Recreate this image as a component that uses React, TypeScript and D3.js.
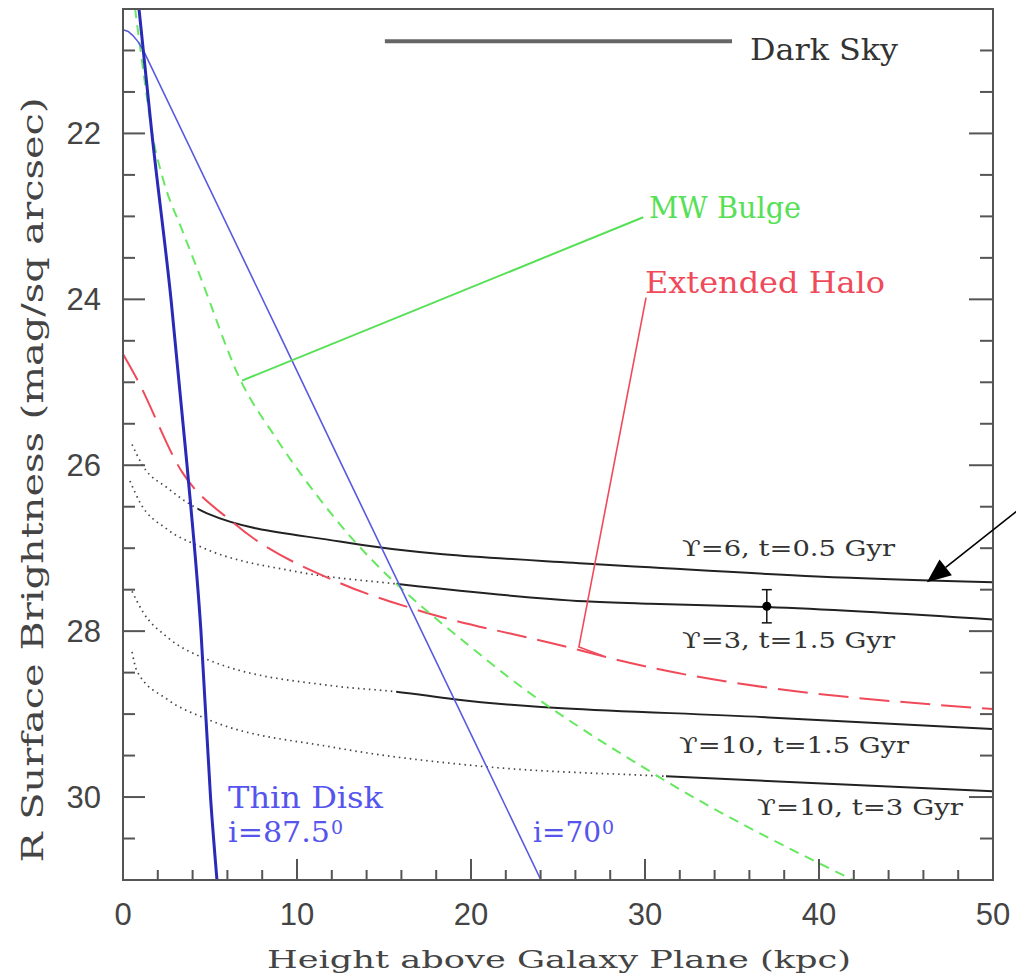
import React from 'react';
import * as d3 from 'd3';

// axis ticks
const xMajorTicks = [0, 10, 20, 30, 40, 50];
const yMajorTicks = [22, 24, 26, 28, 30];

// surface brightness profiles: [height kpc, R mag/sq arcsec]
const thinDisk875 = [[0.92, 20.5], [1.66, 22], [2.76, 24], [3.68, 26], [4.48, 28], [5.03, 30], [5.4, 31]];
const thinDisk70 = [[0, 20.75], [0.3, 20.77], [0.57, 20.82], [0.85, 20.89], [1.15, 20.99], [8.85, 24.36], [12.47, 25.95], [24.02, 31]];
const mwBulge = [[0.69, 20.49], [1.26, 21.39], [1.67, 21.99], [2.3, 22.55], [3.39, 23.16], [4.43, 23.72],
  [6.72, 24.96], [8.85, 25.69], [12.07, 26.61], [20.86, 28.34], [30.75, 29.75], [41.95, 31.0]];
const extendedHalo = [[0, 24.66], [0.8, 24.96], [3.39, 26.08], [6.32, 26.69], [12.47, 27.42], [16.67, 27.73],
  [25.52, 28.19], [28.28, 28.34], [50, 28.94]];

// satellite-debris models (dotted where unresolved, solid beyond)
const modelU6t05 = [[0.52, 25.75], [1.15, 26.01], [2.53, 26.27], [3.85, 26.47], [4.83, 26.58], [12.47, 26.92],
  [27.0, 27.19], [30.29, 27.23], [39.9, 27.34], [50, 27.41]];
const modelU3t15 = [[0.4, 26.19], [0.98, 26.45], [2.53, 26.77], [4.43, 26.98], [10.17, 27.29], [15.69, 27.43],
  [26.55, 27.64], [30.29, 27.67], [37.0, 27.71], [50, 27.86]];
const modelU10t15 = [[0.52, 27.52], [1.15, 27.77], [2.53, 28.07], [4.83, 28.34], [12.07, 28.66], [15.69, 28.73],
  [19.02, 28.82], [37.1, 29.04], [50, 29.18]];
const modelU10t3 = [[0.52, 28.25], [0.8, 28.48], [2.53, 28.82], [4.83, 29.06], [12.07, 29.4], [20.63, 29.63],
  [31.2, 29.75], [50, 29.93]];
const solidFrom = [4.3, 15.7, 15.7, 31.2];

const observed = { x: 37.0, y: 27.7, err: 0.2 };
const darkSky = { x0: 15.05, x1: 35.0, y: 20.89 };

export default function App() {
  const x = d3.scaleLinear().domain([0, 50]).range([123, 993]);
  const y = d3.scaleLinear().domain([20.5, 31]).range([9, 880]);
  const line = d3.line<number[]>().x(d => x(d[0])).y(d => y(d[1])).curve(d3.curveMonotoneX);
  const straight = d3.line<number[]>().x(d => x(d[0])).y(d => y(d[1])).curve(d3.curveLinear);

  const models = [modelU6t05, modelU3t15, modelU10t15, modelU10t3];
  const x0 = x(0), x1 = x(50), y0 = y(20.5), y1 = y(31);

  const xMinor = d3.range(2, 50, 2).filter(v => v % 10 !== 0);
  const yMinor = d3.range(21, 31, 0.5).filter(v => !yMajorTicks.includes(v));

  // arrow toward the upper model curve
  const tip = [x(46.2), y(27.41)];
  const tail = [x(52.9), y(26.3)];
  const ang = Math.atan2(tip[1] - tail[1], tip[0] - tail[0]);
  const hl = 24, hw = 10;
  const bx = tip[0] - hl * Math.cos(ang), by = tip[1] - hl * Math.sin(ang);
  const head = `${tip[0]},${tip[1]} ${bx + hw * Math.sin(ang)},${by - hw * Math.cos(ang)} ${bx - hw * Math.sin(ang)},${by + hw * Math.cos(ang)}`;

  const serif = 'DejaVu Serif';

  return (
    <svg width={1016} height={978} style={{ position: 'absolute', left: 0, top: 0, background: '#fff' }}>
      <defs>
        <clipPath id="plot"><rect x={x0} y={y0} width={x1 - x0} height={y1 - y0} /></clipPath>
        {solidFrom.map((s, i) => (
          <React.Fragment key={i}>
            <clipPath id={`dot${i}`}><rect x={x0} y={y0} width={x(s) - x0} height={y1 - y0} /></clipPath>
            <clipPath id={`sol${i}`}><rect x={x(s)} y={y0} width={x1 - x(s)} height={y1 - y0} /></clipPath>
          </React.Fragment>
        ))}
      </defs>

      <g clipPath="url(#plot)" fill="none">
        {models.map((m, i) => (
          <g key={i}>
            <path d={line(m)!} clipPath={`url(#dot${i})`} stroke="#444" strokeWidth={1.7} strokeDasharray="1.5 4" />
            <path d={line(m)!} clipPath={`url(#sol${i})`} stroke="#222" strokeWidth={2} />
          </g>
        ))}
        <path d={line(extendedHalo)!} stroke="#f04a5a" strokeWidth={2} strokeDasharray="30 11" />
        <path d={line(mwBulge)!} stroke="#66e860" strokeWidth={2} strokeDasharray="10 7" />
        <path d={straight(thinDisk70)!} stroke="#5a5ae0" strokeWidth={1.6} />
        <path d={line(thinDisk875)!} stroke="#2a2ab8" strokeWidth={3} />
      </g>

      {/* leaders */}
      <line x1={x(6.84)} y1={y(24.98)} x2={x(29.9)} y2={y(23.01)} stroke="#55e055" strokeWidth={2} />
      <polyline points={`${x(30.06)},${y(23.98)} ${x(26.2)},${y(28.19)} ${x(27.6)},${y(28.3)}`} fill="none" stroke="#f04a5a" strokeWidth={1.6} />

      {/* dark sky */}
      <line x1={x(darkSky.x0)} x2={x(darkSky.x1)} y1={y(darkSky.y)} y2={y(darkSky.y)} stroke="#666" strokeWidth={4} />

      {/* observed point */}
      <g stroke="#111" strokeWidth={1.5}>
        <line x1={x(observed.x)} x2={x(observed.x)} y1={y(observed.y - observed.err)} y2={y(observed.y + observed.err)} />
        <line x1={x(observed.x) - 5} x2={x(observed.x) + 5} y1={y(observed.y - observed.err)} y2={y(observed.y - observed.err)} />
        <line x1={x(observed.x) - 5} x2={x(observed.x) + 5} y1={y(observed.y + observed.err)} y2={y(observed.y + observed.err)} />
      </g>
      <circle cx={x(observed.x)} cy={y(observed.y)} r={4.5} fill="#000" />

      {/* frame & ticks */}
      <rect x={x0} y={y0} width={x1 - x0} height={y1 - y0} fill="none" stroke="#555" strokeWidth={2} />
      <g stroke="#555" strokeWidth={2}>
        {xMajorTicks.slice(1, -1).map(v => <line key={'xm' + v} x1={x(v)} x2={x(v)} y1={y1} y2={y1 - 21} />)}
        {xMinor.map(v => <line key={'xn' + v} x1={x(v)} x2={x(v)} y1={y1} y2={y1 - 10} />)}
        {yMajorTicks.map(v => (
          <g key={'ym' + v}>
            <line x1={x0} x2={x0 + 22} y1={y(v)} y2={y(v)} />
            <line x1={x1} x2={x1 - 24} y1={y(v)} y2={y(v)} />
          </g>
        ))}
        {yMinor.map(v => (
          <g key={'yn' + v}>
            <line x1={x0} x2={x0 + 12} y1={y(v)} y2={y(v)} />
            <line x1={x1} x2={x1 - 13} y1={y(v)} y2={y(v)} />
          </g>
        ))}
      </g>

      <g fontFamily="Liberation Sans" fontSize={31} fill="#444">
        {xMajorTicks.map(v => <text key={'xl' + v} x={x(v)} y={925} textAnchor="middle">{v}</text>)}
        {yMajorTicks.map(v => <text key={'yl' + v} x={101} y={y(v) + 11} textAnchor="end">{v}</text>)}
      </g>

      {/* axis titles */}
      <text x={559} y={968} fontFamily={serif} fontSize={24} fill="#444" textAnchor="middle"
        textLength={584} lengthAdjust="spacingAndGlyphs">Height above Galaxy Plane (kpc)</text>
      <text transform="translate(43,480) rotate(-90)" fontFamily={serif} fontSize={30} fill="#444" textAnchor="middle"
        textLength={765} lengthAdjust="spacingAndGlyphs">R Surface Brightness (mag/sq arcsec)</text>

      {/* annotations */}
      <g fontFamily={serif}>
        <text x={750} y={60} fontSize={30} fill="#333" textLength={148} lengthAdjust="spacingAndGlyphs">Dark Sky</text>
        <text x={649} y={218} fontSize={29} fill="#55e055" textLength={152} lengthAdjust="spacingAndGlyphs">MW Bulge</text>
        <text x={645} y={293} fontSize={29} fill="#f04a5a" textLength={240} lengthAdjust="spacingAndGlyphs">Extended Halo</text>
        <text x={682} y={556} fontSize={23} fill="#333" textLength={213} lengthAdjust="spacingAndGlyphs">ϒ=6, t=0.5 Gyr</text>
        <text x={682} y={648} fontSize={23} fill="#333" textLength={213} lengthAdjust="spacingAndGlyphs">ϒ=3, t=1.5 Gyr</text>
        <text x={679} y={753} fontSize={23} fill="#333" textLength={230} lengthAdjust="spacingAndGlyphs">ϒ=10, t=1.5 Gyr</text>
        <text x={757} y={815} fontSize={23} fill="#333" textLength={206} lengthAdjust="spacingAndGlyphs">ϒ=10, t=3 Gyr</text>
        <text x={228} y={808} fontSize={29} fill="#5555ee" textLength={155} lengthAdjust="spacingAndGlyphs">Thin Disk</text>
        <text x={228} y={842} fontSize={27} fill="#5555ee" textLength={102} lengthAdjust="spacingAndGlyphs">i=87.5</text>
        <text x={331} y={834} fontSize={19} fill="#5555ee">0</text>
        <text x={533} y={842} fontSize={27} fill="#5555ee" textLength={68} lengthAdjust="spacingAndGlyphs">i=70</text>
        <text x={602} y={834} fontSize={19} fill="#5555ee">0</text>
      </g>

      {/* arrow */}
      <line x1={tail[0]} y1={tail[1]} x2={bx} y2={by} stroke="#000" strokeWidth={1.6} />
      <polygon points={head} fill="#000" />
    </svg>
  );
}
